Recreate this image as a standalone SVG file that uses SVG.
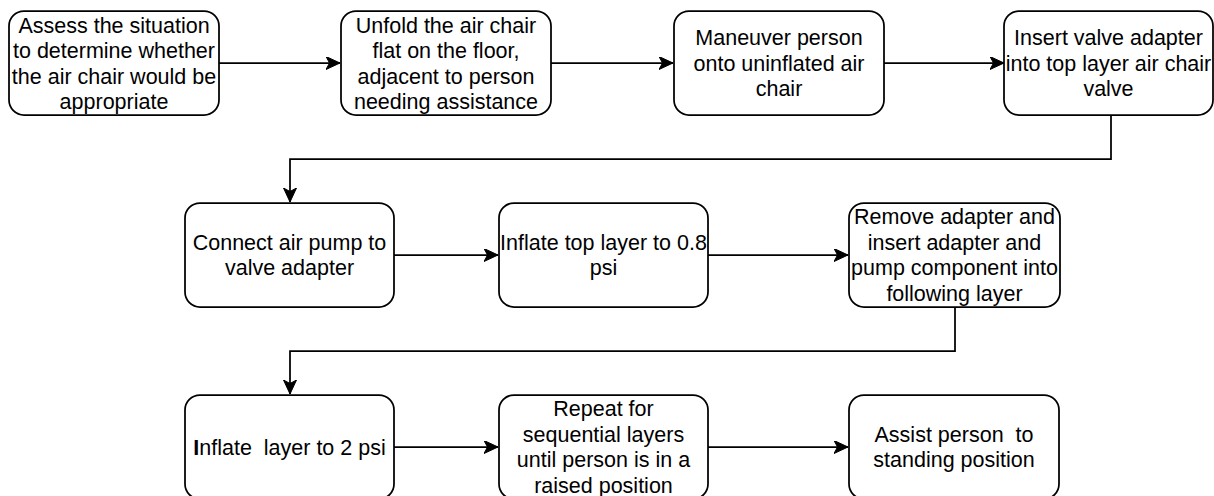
<svg xmlns="http://www.w3.org/2000/svg" width="1214" height="496" viewBox="0 0 1214 496">
<style>
.box{fill:#ffffff;stroke:#000000;stroke-width:1.75}
.lbl{font-family:"Liberation Sans",Arial,Helvetica,sans-serif;font-size:21.5px;fill:#000000;text-anchor:middle;white-space:pre}
.edge{fill:none;stroke:#000000;stroke-width:1.75}
</style>
<defs>
<marker id="arr" markerUnits="userSpaceOnUse" markerWidth="16" markerHeight="14" refX="14" refY="6.5" orient="auto">
<path d="M0,0 L14,6.5 L0,13 L3.5,6.5 Z" fill="#000000" stroke="#000000" stroke-width="1"/>
</marker>
</defs>
<rect width="1214" height="496" fill="#ffffff"/>
<g id="connectors">
<path class="edge" d="M219,63 H340" marker-end="url(#arr)"/>
<path class="edge" d="M551,63 H673" marker-end="url(#arr)"/>
<path class="edge" d="M884,63 H1004" marker-end="url(#arr)"/>
<path class="edge" d="M1111,115 V159 H290 V202" marker-end="url(#arr)"/>
<path class="edge" d="M394,255 H498" marker-end="url(#arr)"/>
<path class="edge" d="M708,255 H848" marker-end="url(#arr)"/>
<path class="edge" d="M955,307 V351 H290 V394" marker-end="url(#arr)"/>
<path class="edge" d="M394,447 H498" marker-end="url(#arr)"/>
<path class="edge" d="M708,447 H848" marker-end="url(#arr)"/>
</g>
<g id="n1">
<rect class="box" x="9" y="11" width="210" height="104" rx="15" ry="15"/>
<text class="lbl"><tspan x="114" y="32.5">Assess the situation</tspan><tspan x="114" y="58">to determine whether</tspan><tspan x="114" y="83.5">the air chair would be</tspan><tspan x="114" y="109">appropriate</tspan></text>
</g>
<g id="n2">
<rect class="box" x="341" y="11" width="210" height="104" rx="15" ry="15"/>
<text class="lbl"><tspan x="446" y="32.5">Unfold the air chair</tspan><tspan x="446" y="58">flat on the floor,</tspan><tspan x="446" y="83.5">adjacent to person</tspan><tspan x="446" y="109">needing assistance</tspan></text>
</g>
<g id="n3">
<rect class="box" x="674" y="11" width="210" height="104" rx="15" ry="15"/>
<text class="lbl"><tspan x="779" y="45">Maneuver person</tspan><tspan x="779" y="70.5">onto uninflated air</tspan><tspan x="779" y="96">chair</tspan></text>
</g>
<g id="n4">
<rect class="box" x="1004" y="11" width="209" height="104" rx="15" ry="15"/>
<text class="lbl"><tspan x="1108.5" y="45">Insert valve adapter</tspan><tspan x="1108.5" y="70.5">into top layer air chair</tspan><tspan x="1108.5" y="96">valve</tspan></text>
</g>
<g id="n5">
<rect class="box" x="185" y="203" width="209" height="104" rx="15" ry="15"/>
<text class="lbl"><tspan x="289.5" y="249.5">Connect air pump to</tspan><tspan x="289.5" y="275">valve adapter</tspan></text>
</g>
<g id="n6">
<rect class="box" x="499" y="203" width="209" height="104" rx="15" ry="15"/>
<text class="lbl"><tspan x="603.5" y="249.5">Inflate top layer to 0.8</tspan><tspan x="603.5" y="275">psi</tspan></text>
</g>
<g id="n7">
<rect class="box" x="849" y="203" width="211" height="104" rx="15" ry="15"/>
<text class="lbl"><tspan x="954.5" y="224">Remove adapter and</tspan><tspan x="954.5" y="249.5">insert adapter and</tspan><tspan x="954.5" y="275">pump component into</tspan><tspan x="954.5" y="300.5">following layer</tspan></text>
</g>
<g id="n8">
<rect class="box" x="185" y="395" width="209" height="104" rx="15" ry="15"/>
<text class="lbl" x="289.5" y="454.5"><tspan font-weight="bold">I</tspan>nflate  layer to 2 psi</text>
</g>
<g id="n9">
<rect class="box" x="499" y="395" width="209" height="104" rx="15" ry="15"/>
<text class="lbl"><tspan x="603.5" y="416">Repeat for</tspan><tspan x="603.5" y="441.5">sequential layers</tspan><tspan x="603.5" y="467">until person is in a</tspan><tspan x="603.5" y="492.5">raised position</tspan></text>
</g>
<g id="n10">
<rect class="box" x="849" y="395" width="210" height="104" rx="15" ry="15"/>
<text class="lbl"><tspan x="954" y="441.5">Assist person  to</tspan><tspan x="954" y="467">standing position</tspan></text>
</g>
</svg>
